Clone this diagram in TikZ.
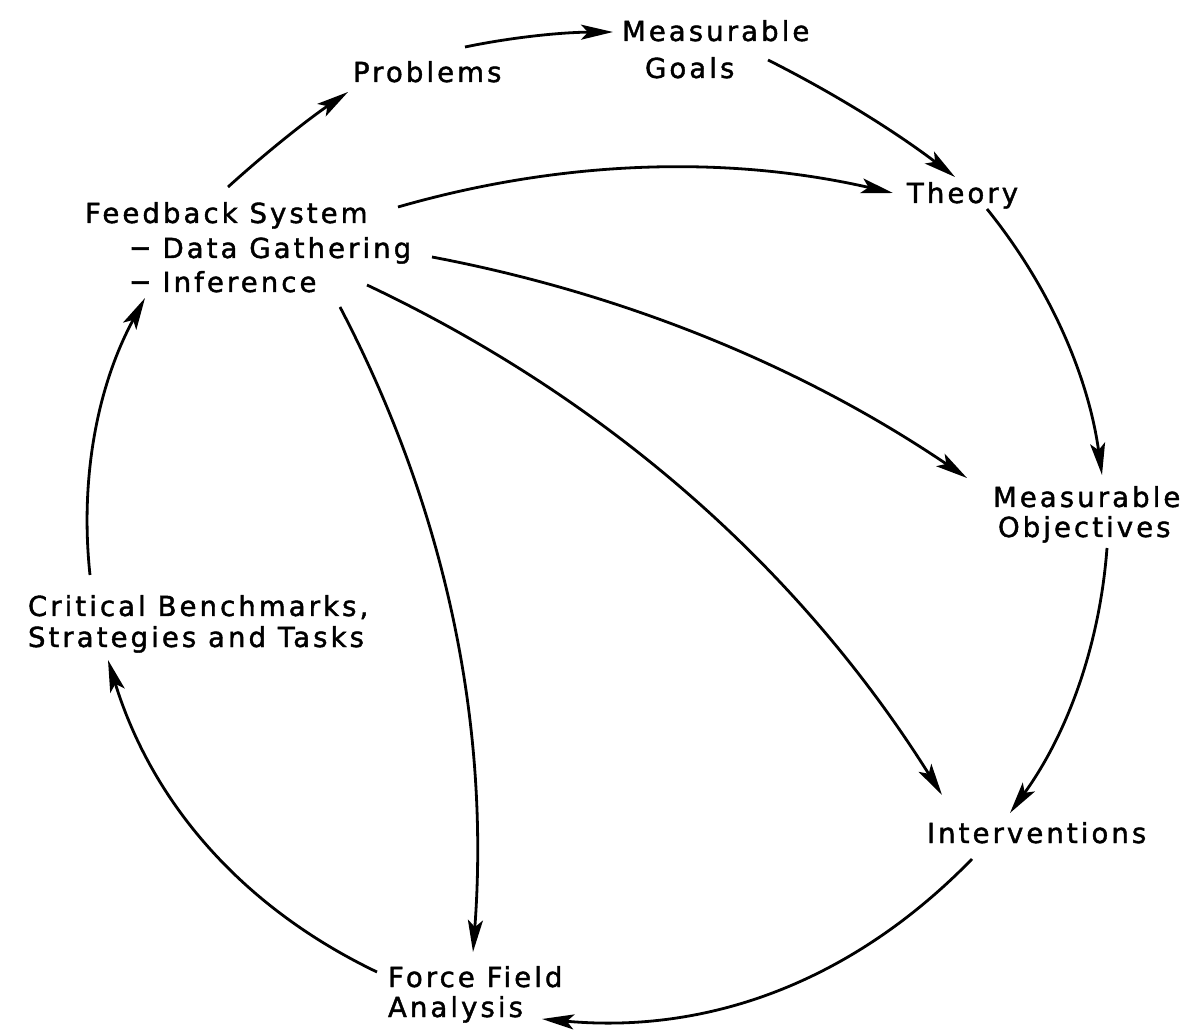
\documentclass[tikz,border=0pt]{standalone}
\usepackage{fontspec}
\usepackage{graphicx}
\newfontfamily\lblfont{DejaVu Sans}[LetterSpace=11,FakeBold=1.5]
\usetikzlibrary{arrows.meta}
\newcommand{\lbldash}{\scalebox{1.5}[1.25]{–}}
\tikzset{
  lbl/.style={font=\lblfont\fontsize{13.8}{16}\selectfont, inner sep=0pt, outer sep=0pt, anchor=base west},
  arr/.style={line width=1.4pt, -{Stealth[length=16pt,width=7.5pt,inset=3.5pt]}}
}
\begin{document}
\begin{tikzpicture}[x=0.5pt,y=-0.5pt]
\useasboundingbox (0,0) rectangle (1185,1032);
% labels
\node[lbl] (pr)  at (353,82)  {Problems};
\node[lbl] (mg1) at (622,41)  {Measurable};
\node[lbl] (mg2) at (645,78)  {Goals};
\node[lbl] (th)  at (907,203) {Theory};
\node[lbl] (fb1) at (85,223)  {Feedback System};
\node[lbl] (fb2) at (130,258) {\lbldash\ Data Gathering};
\node[lbl] (fb3) at (130,292) {\lbldash\ Inference};
\node[lbl] (mo1) at (993,507) {Measurable};
\node[lbl] (mo2) at (998,537) {Objectives};
\node[lbl] (iv)  at (927,843) {Interventions};
\node[lbl] (ff1) at (388,987) {Force Field};
\node[lbl] (ff2) at (388,1017) {Analysis};
\node[lbl] (cb1) at (28,616)  {Critical Benchmarks,};
\node[lbl] (cb2) at (28,647)  {Strategies and Tasks};
% outer cycle
\draw[arr] ([shift={(143,-36)}]fb1.base west) .. controls (266.7,152) and (306.7,120.3) .. ([shift={(-5,10)}]pr.base west);
\draw[arr] ([shift={(112,-35)}]pr.base west) .. controls (511.7,37.3) and (561,32.3) .. ([shift={(-9,-9)}]mg1.base west);
\draw[arr] ([shift={(123,-18)}]mg2.base west) .. controls (833.7,93) and (896,132) .. ([shift={(48,-26)}]th.base west);
\draw[arr] ([shift={(80,6)}]th.base west) .. controls (1049.9,287) and (1088.2,375.7) .. ([shift={(109,-32)}]mo1.base west);
\draw[arr] ([shift={(109,11)}]mo2.base west) .. controls (1099.7,645.5) and (1067.4,733.9) .. ([shift={(83,-30)}]iv.base west);
\draw[arr] ([shift={(45,16)}]iv.base west) .. controls (853.3,981) and (709.3,1034.3) .. ([shift={(154,2)}]ff2.base west);
\draw[arr] ([shift={(-11,-15)}]ff1.base west) .. controls (241.9,907.2) and (152.3,803.2) .. ([shift={(80,13)}]cb2.base west);
\draw[arr] ([shift={(62,-41)}]cb1.base west) .. controls (79.5,477) and (97.9,384.6) .. ([shift={(15,6)}]fb3.base west);
% spokes from feedback system
\draw[arr] ([shift={(313,-16)}]fb1.base west) .. controls (562.3,159.7) and (727.3,155) .. ([shift={(-14,-10)}]th.base west);
\draw[arr] ([shift={(302,-1)}]fb2.base west) .. controls (625.7,293.7) and (804,367.4) .. ([shift={(-26,-29)}]mo1.base west);
\draw[arr] ([shift={(237,-7)}]fb3.base west) .. controls (608.3,399.1) and (800,569.1) .. ([shift={(15,-48)}]iv.base west);
\draw[arr] ([shift={(210,15)}]fb3.base west) .. controls (445.8,509.3) and (490.1,724.3) .. ([shift={(85,-35)}]ff1.base west);
\end{tikzpicture}
\end{document}
